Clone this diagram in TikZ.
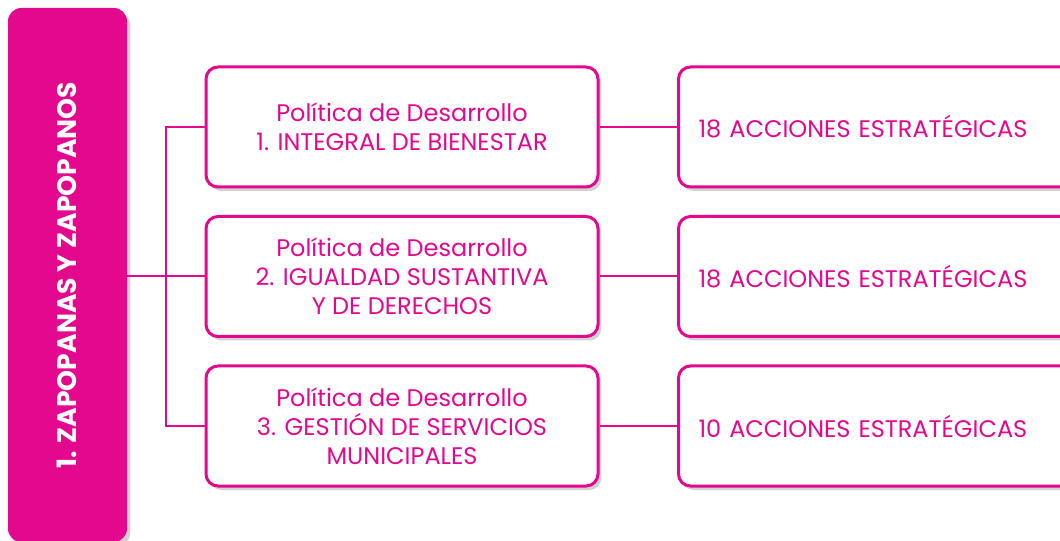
\documentclass[tikz,border=0pt]{standalone}
\usepackage{fontspec}
\setmainfont{Poppins}
\usetikzlibrary{shadows}
\definecolor{zpink}{HTML}{E4088F}
\begin{document}
\begin{tikzpicture}[x=0.75pt,y=-0.75pt,
  shad/.style={drop shadow={opacity=0.18, shadow xshift=2.5pt, shadow yshift=-3pt, fill=black}},
  pbox/.style={draw=zpink, line width=2.25pt, rounded corners=9pt, fill=white,
    minimum width=294pt, minimum height=90pt, align=center, text=zpink,
    font=\fontsize{18}{21.75}\selectfont, shad},
  abox/.style={draw=zpink, line width=2.25pt, rounded corners=9pt, fill=white,
    text width=280pt, inner xsep=15pt, minimum height=90pt, align=left, text=zpink,
    font=\fontsize{18}{21.75}\selectfont, shad},
  conn/.style={draw=zpink, line width=1.5pt}]
\useasboundingbox (0,0) rectangle (1060,541);
\clip (0,0) rectangle (1060,541);
\fill[white] (0,0) rectangle (1060,541);
% left bar
\node[fill=zpink, rounded corners=10pt, minimum width=89.25pt, minimum height=400.5pt,
  inner sep=0pt, shad] (bar) at (67.5,275) {};
\node[rotate=90, text=white, font=\bfseries\fontsize{20}{20}\selectfont] (bartext) at (67,275) {1. ZAPOPANAS Y ZAPOPANOS};
% policy boxes
\node[pbox] (p1) at (402,127) {Política de Desarrollo\\1. INTEGRAL DE BIENESTAR};
\node[pbox] (p2) at (402,276.5) {Política de Desarrollo\\2. IGUALDAD SUSTANTIVA\\Y DE DERECHOS};
\node[pbox] (p3) at (402,426) {Política de Desarrollo\\3. GESTIÓN DE SERVICIOS\\MUNICIPALES};
% action boxes
\node[abox, anchor=west] (a1) at (677,127) {18 ACCIONES ESTRATÉGICAS};
\node[abox, anchor=west] (a2) at (677,276.5) {18 ACCIONES ESTRATÉGICAS};
\node[abox, anchor=west] (a3) at (677,426) {10 ACCIONES ESTRATÉGICAS};
% connectors
\coordinate (jx) at (166,276.5);
\draw[conn] (bar.east |- p2.west) -- (p2.west);
\draw[conn] (p1.west) -| (jx |- p3.west) -- (p3.west);
\draw[conn] (p1.east) -- (a1.west);
\draw[conn] (p2.east) -- (a2.west);
\draw[conn] (p3.east) -- (a3.west);
\end{tikzpicture}
\end{document}
